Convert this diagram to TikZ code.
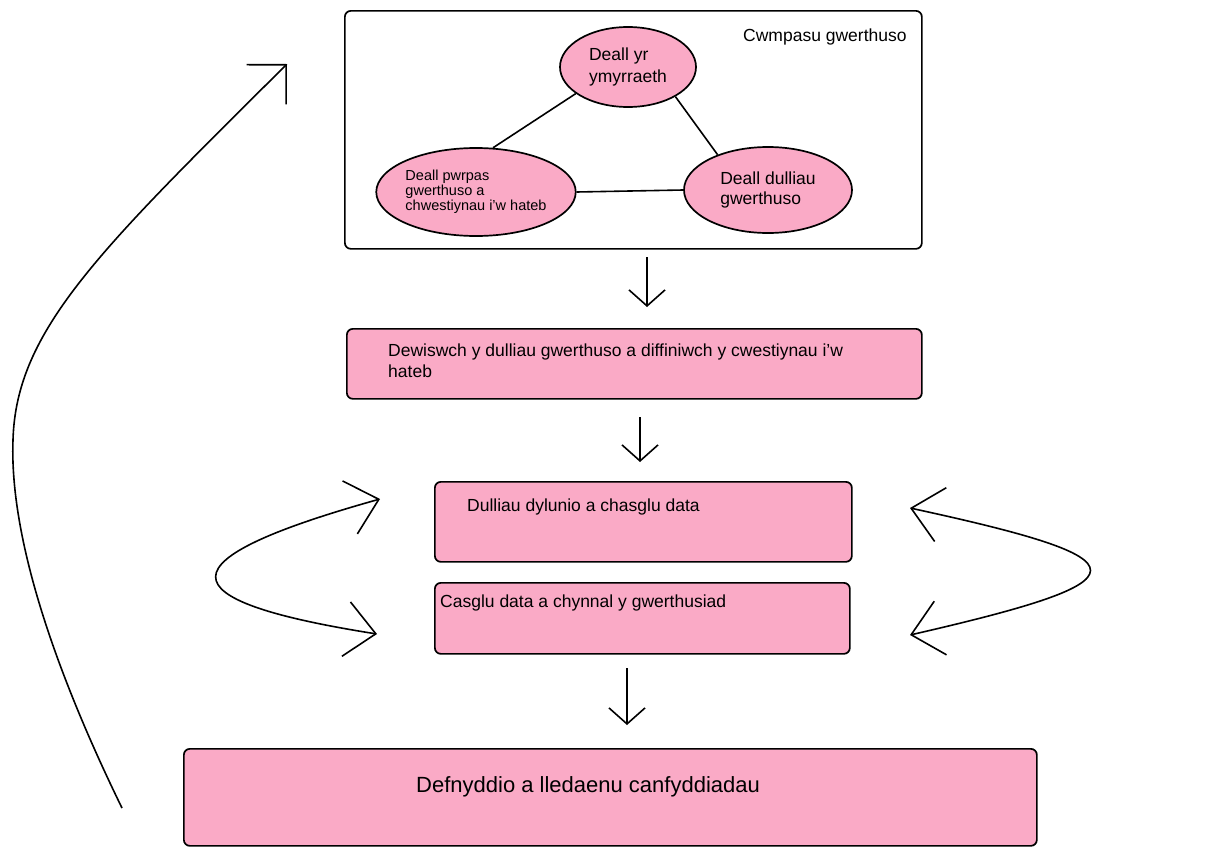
\documentclass[tikz,border=0pt]{standalone}
\usepackage{fontspec}
\setmainfont{Liberation Sans}
\usetikzlibrary{arrows.meta,shapes.geometric}
\definecolor{pinkfill}{RGB}{250,170,198}
\begin{document}
\begin{tikzpicture}[x=1pt,y=-1pt,
  box/.style={draw=black, line width=1.7pt, rounded corners=6pt, fill=pinkfill, inner sep=0pt, anchor=north west},
  oval/.style={draw=black, line width=1.7pt, ellipse, fill=pinkfill, inner sep=0pt, align=left},
  txt/.style={font=\fontsize{17.5}{21}\selectfont, inner sep=0pt, align=left, anchor=west},
  conn/.style={line width=1.6pt},
  arr/.style={line width=1.6pt, -{Straight Barb[length=16pt,width=36pt]}},
  loop/.style={line width=1.6pt, {Straight Barb[length=30pt,width=55pt]}-{Straight Barb[length=30pt,width=55pt]}}
]
\useasboundingbox[fill=white] (0,0) rectangle (1208,854);

% scoping box
\node[box, fill=white, minimum width=577pt, minimum height=238pt] (scope) at (344,10) {};
\node[txt] (scopelabel) at (743,37) {Cwmpasu gwerthuso};

\node[oval, minimum width=136pt, minimum height=80pt, font=\fontsize{17.5}{22}\selectfont] (interv) at (628,67) {Deall yr\\ymyrraeth};
\node[oval, minimum width=166pt, minimum height=88pt, font=\fontsize{14.5}{15}\selectfont] (purpose) at (476,192) {Deall pwrpas\\gwerthuso a\\chwestiynau i'w hateb};
\node[oval, minimum width=168pt, minimum height=86pt, font=\fontsize{17.5}{20}\selectfont] (methods) at (768,190) {Deall dulliau\\gwerthuso};

\draw[conn] (interv.207) -- (purpose.69);
\draw[conn] (interv.328) -- (methods.145);
\draw[conn] (purpose.east) -- (methods.west);

% step boxes
\node[box, minimum width=575pt, minimum height=70pt] (choose) at (346,328) {};
\node[txt] (choosetxt) at (388,361) {Dewiswch y dulliau gwerthuso a diffiniwch y cwestiynau i'w\\hateb};

\node[box, minimum width=417pt, minimum height=80pt] (design) at (434,481) {};
\node[txt] (designtxt) at (467,507) {Dulliau dylunio a chasglu data};

\node[box, minimum width=415pt, minimum height=71pt] (collect) at (434,582) {};
\node[txt] (collecttxt) at (440,603) {Casglu data a chynnal y gwerthusiad};

\node[box, minimum width=853pt, minimum height=97pt] (use) at (183,748) {};
\node[txt, font=\fontsize{22}{26}\selectfont] (usetxt) at (416,787) {Defnyddio a lledaenu canfyddiadau};

% down arrows
\coordinate (a1s) at (647,257); \coordinate (a1e) at (647,307);
\coordinate (a2s) at (640,417); \coordinate (a2e) at (640,462);
\coordinate (a3s) at (627,668); \coordinate (a3e) at (627,725);
\draw[arr] (a1s) -- (a1e);
\draw[arr] (a2s) -- (a2e);
\draw[arr] (a3s) -- (a3e);

% side loops
\coordinate (l1) at (380,499); \coordinate (l2) at (377,634);
\draw[loop] (l1) .. controls (162,560) and (162,600) .. (l2);
\coordinate (r1) at (910,508); \coordinate (r2) at (910,635);
\draw[loop] (r1) .. controls (1150,560) and (1150,580) .. (r2);

% big feedback arrow
\coordinate (b0) at (122,808); \coordinate (bm) at (13,440); \coordinate (b1) at (287,64);
\draw[line width=1.6pt, -{Straight Barb[length=28pt,width=56pt]}] (b0) .. controls (40,640) and (10,520) .. (bm) .. controls (16,330) and (100,250) .. (b1);
\end{tikzpicture}
\end{document}
